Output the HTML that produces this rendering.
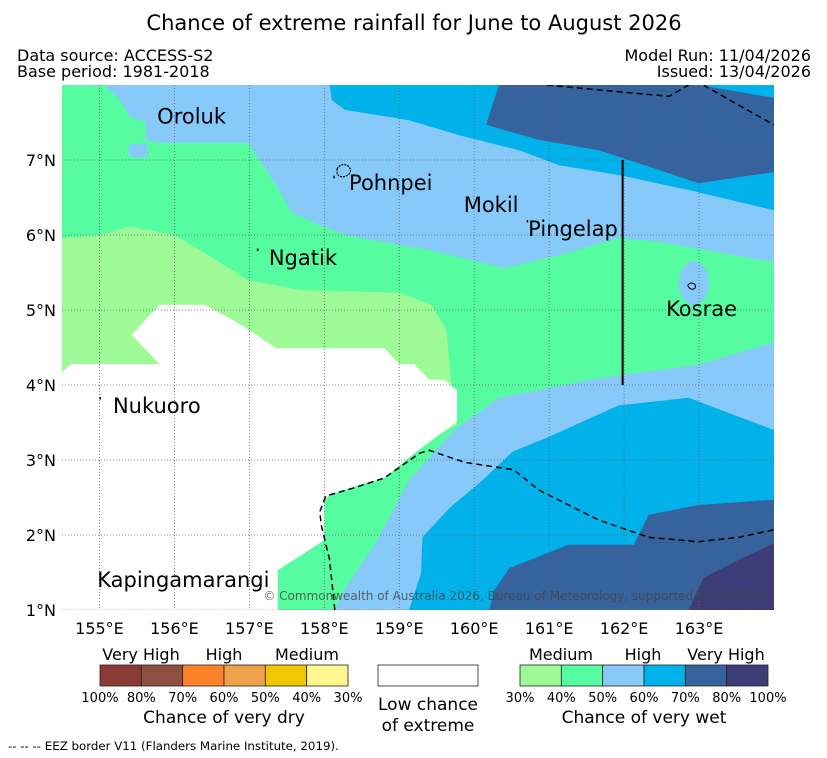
<!DOCTYPE html>
<html><head><meta charset="utf-8"><style>
body{margin:0;background:#fff;}
svg{display:block;font-family:"DejaVu Sans","Liberation Sans",sans-serif;}
</style></head><body>
<svg id="chart" width="827" height="758" viewBox="0 0 827 758" xmlns="http://www.w3.org/2000/svg">
<text x="414" y="30" font-size="21" text-anchor="middle">Chance of extreme rainfall for June to August 2026</text>
<text x="17" y="61" font-size="16">Data source: ACCESS-S2</text>
<text x="17" y="77" font-size="16">Base period: 1981-2018</text>
<text x="811" y="61" font-size="16" text-anchor="end">Model Run: 11/04/2026</text>
<text x="811" y="77" font-size="16" text-anchor="end">Issued: 13/04/2026</text>
<g id="map"></g>
<g id="legend"></g>
<text x="8" y="750" font-size="11.8">--  --  -- EEZ border V11 (Flanders Marine Institute, 2019).</text>
</svg>
<script>
const lonTicks=[155,156,157,158,159,160,161,162,163];
const latTicks=[1,2,3,4,5,6,7];
const regionGreen=[[154.5,8],[155.07,8],[155.27,7.8],[155.41,7.57],[155.61,7.51],[155.62,7.27],[155.78,7.23],[156.98,7.23],[157.27,6.8],[157.58,6.29],[158.27,6],[159.4,5.8],[160.4,5.56],[161.13,5.73],[161.93,5.96],[162.46,5.91],[163.26,5.77],[164,5.64],[164,4.57],[162.99,4.27],[161.66,4.09],[160.33,3.83],[159.73,3.4],[159.13,2.73],[158.67,1.87],[158.27,1.27],[158.14,1],[154.5,1]];
const patchBlue=[[155.38,7.2],[155.63,7.23],[155.65,7.04],[155.41,7.03]];
const regionLightGreen=[[154.5,5.96],[155.01,6],[155.41,6.11],[156,6],[156.34,5.8],[156.98,5.4],[157.67,5.27],[159,5.23],[159.43,5.07],[159.63,4.73],[159.69,4.07],[159.77,3.47],[158.07,2.53],[157.27,1.47],[157.07,1],[154.5,1]];
const regionWhite=[[154.5,4.17],[154.63,4.28],[155.8,4.28],[155.43,4.67],[155.8,5.07],[156.4,5.07],[156.83,4.84],[157.36,4.49],[158.8,4.49],[159,4.28],[159.2,4.28],[159.4,4.07],[159.6,4.07],[159.77,3.93],[159.77,3.51],[159.2,3.09],[158.8,2.76],[158.47,2.67],[158.07,2.53],[158,2.47],[158,1.93],[157.38,1.53],[157.38,1],[154.5,1]];
const regionCyanTop=[[158.07,8],[158.1,7.8],[158.27,7.67],[159.13,7.53],[159.8,7.33],[160.6,7.13],[161.13,6.93],[161.93,6.8],[162.86,6.6],[164,6.33],[164,8]];
const regionDarkTop=[[160.33,8],[160.16,7.47],[160.86,7.27],[161.66,7.13],[162.46,6.87],[162.99,6.69],[164,6.84],[164,7.83],[162.99,8]];
const regionCyanBottom=[[164,3.4],[162.86,3.83],[161.93,3.73],[161,3.31],[160.51,3.11],[160.11,2.73],[159.67,2.36],[159.31,1.97],[159.29,1.49],[159.13,1],[164,1]];
const regionDarkBottom=[[164,2.47],[162.99,2.4],[162.33,2.27],[162.13,1.87],[161.26,1.87],[160.47,1.56],[160.27,1.27],[160.2,1],[164,1]];
const regionPurple=[[164,1.89],[163.53,1.67],[163.06,1.43],[162.86,1],[164,1]];
const eezTop1=[[160.97,8],[161.93,7.91],[162.6,7.85],[162.86,8]];
const eezTop2=[[163.06,8],[163.53,7.73],[164,7.47]];
const eezBottom=[[158.14,1],[158.07,1.67],[157.96,2.13],[157.94,2.31],[158.02,2.52],[158.4,2.63],[158.8,2.76],[159.27,3.09],[159.4,3.13],[159.87,2.97],[160.53,2.87],[160.86,2.6],[161.66,2.2],[162.33,1.97],[162.99,1.91],[163.53,1.97],[164,2.07]];
const meridianLine=[[161.98,7],[161.98,4]];
const placeNames=["Oroluk","Pohnpei","Mokil","Pingelap","Ngatik","Kosrae","Nukuoro","Kapingamarangi"];
const placeLon=[155.77,158.33,159.86,160.72,157.26,162.56,155.18,154.97];
const placeLat=[7.49,6.6,6.31,5.99,5.6,4.92,3.63,1.31];
const dotLon=[158.12,157.1,160.7,155.0];
const dotLat=[6.79,5.82,6.2,3.84];
const dryLabels=["100%","80%","70%","60%","50%","40%","30%"];
const wetLabels=["30%","40%","50%","60%","70%","80%","100%"];
const dryColors=["#8b3a34","#8d4f40","#fe8229","#efa04a","#f0c800","#fff68f"];
const wetColors=["#9efa96","#55fca0","#87cafa","#00b1ea","#36629e","#3c3c78"];

const X0=62,X1=774,Y0=85,Y1=610,LON0=154.5,LON1=164,LAT0=1,LAT1=8;
const xs=l=>X0+(l-LON0)/(LON1-LON0)*(X1-X0);
const ys=l=>Y1-(l-LAT0)/(LAT1-LAT0)*(Y1-Y0);
const NS="http://www.w3.org/2000/svg";
const map=document.getElementById('map');
function mk(tag,attrs,parent){const e=document.createElementNS(NS,tag);for(const k in attrs)e.setAttribute(k,attrs[k]);parent.appendChild(e);return e;}
const pts=a=>a.map(p=>xs(p[0]).toFixed(1)+','+ys(p[1]).toFixed(1)).join(' ');
const defs=mk('defs',{},map);
const cp=mk('clipPath',{id:'clip'},defs);
mk('rect',{x:X0,y:Y0,width:X1-X0,height:Y1-Y0},cp);
const g=mk('g',{'clip-path':'url(#clip)'},map);
const bg=mk('rect',{x:X0,y:Y0,width:X1-X0,height:Y1-Y0,fill:'#87cafa'},g);


function region(a,fill,name){const e=mk('polygon',{points:pts(a),fill:fill},g);

}
region(regionGreen,'#55fca0','region-40-50');
region(patchBlue,'#87cafa','region-50-60-patch');
region(regionLightGreen,'#9efa96','region-30-40');
region(regionWhite,'#ffffff','region-low-chance');
region(regionCyanTop,'#00b1ea','region-60-70-north');
region(regionDarkTop,'#36629e','region-70-80-north');
region(regionCyanBottom,'#00b1ea','region-60-70-south');
region(regionDarkBottom,'#36629e','region-70-80-south');
region(regionPurple,'#3c3c78','region-80-100');
const kos=mk('ellipse',{cx:xs(162.93),cy:ys(5.36),rx:15,ry:22,fill:'#87cafa'},g);


lonTicks.forEach(l=>{const e=mk('line',{x1:xs(l),x2:xs(l),y1:Y0,y2:Y1,stroke:'#666','stroke-width':0.8,'stroke-dasharray':'1,2'},g);


const t=mk('text',{x:xs(l),y:Y1+24,'font-size':16,'text-anchor':'middle'},map);t.textContent=l+'°E';

});
latTicks.forEach(l=>{const e=mk('line',{x1:X0,x2:X1,y1:ys(l),y2:ys(l),stroke:'#666','stroke-width':0.8,'stroke-dasharray':'1,2'},g);


const t=mk('text',{x:X0-6,y:ys(l)+6,'font-size':16,'text-anchor':'end'},map);t.textContent=l+'°N';

});
[eezTop1,eezTop2,eezBottom].forEach(a=>{const e=mk('polyline',{points:pts(a),fill:'none',stroke:'#000','stroke-width':1.5,'stroke-dasharray':'6,4'},g);

});
const ml=mk('polyline',{points:pts(meridianLine),stroke:'#000','stroke-width':2,fill:'none'},g);


const isl1=mk('path',{d:`M${xs(158.17)},${ys(6.88)} q4,-7 11,-3 q5,4 0,9 q-7,4 -11,-1 z`,fill:'none',stroke:'#000','stroke-width':1.2,'stroke-dasharray':'2,1'},g);


const isl2=mk('path',{d:`M${xs(162.85)},${ys(5.33)} q3,-4 7,-1 q2,4 -2,5 q-4,0 -5,-4 z`,fill:'none',stroke:'#000','stroke-width':1},g);


dotLon.forEach((l,i)=>{const d=mk('rect',{x:xs(l),y:ys(dotLat[i]),width:1.5,height:2.5,fill:'#000'},g);

});
placeNames.forEach((n,i)=>{const t=mk('text',{x:xs(placeLon[i]),y:ys(placeLat[i]),'font-size':21},map);t.textContent=n;

});
const cr=mk('text',{x:516,y:600,'font-size':12,'text-anchor':'middle',fill:'#444','fill-opacity':0.8},map);
cr.textContent='© Commonwealth of Australia 2026, Bureau of Meteorology, supported by COSPPac';


const lg=document.getElementById('legend');
function bar(x0,colors,labels,tiers,tierX,title,nm){
 const w=248/6;
 colors.forEach((c,i)=>{const r=mk('rect',{x:x0+i*w,y:665,width:w,height:21,fill:c,stroke:'#222','stroke-width':0.8},lg);
 
 });
 labels.forEach((l,i)=>{const t=mk('text',{x:x0+i*w,y:702,'font-size':13,'text-anchor':'middle'},lg);t.textContent=l;
 
 });
 tiers.forEach((l,i)=>{const t=mk('text',{x:tierX[i],y:660,'font-size':16,'text-anchor':'middle'},lg);t.textContent=l;
 
 });
 const t=mk('text',{x:x0+124,y:723,'font-size':17,'text-anchor':'middle'},lg);t.textContent=title;
 
 
}
bar(100,dryColors,dryLabels,["Very High","High","Medium"],[141,224,307],"Chance of very dry","dry-legend");
bar(520,wetColors,wetLabels,["Medium","High","Very High"],[561,643,726],"Chance of very wet","wet-legend");
const wb=mk('rect',{x:378,y:665,width:100,height:21,fill:'#fff',stroke:'#222','stroke-width':0.8},lg);


const l1=mk('text',{x:428,y:710,'font-size':17,'text-anchor':'middle'},lg);l1.textContent='Low chance';


const l2=mk('text',{x:428,y:731,'font-size':17,'text-anchor':'middle'},lg);l2.textContent='of extreme';


</script>
</body></html>
